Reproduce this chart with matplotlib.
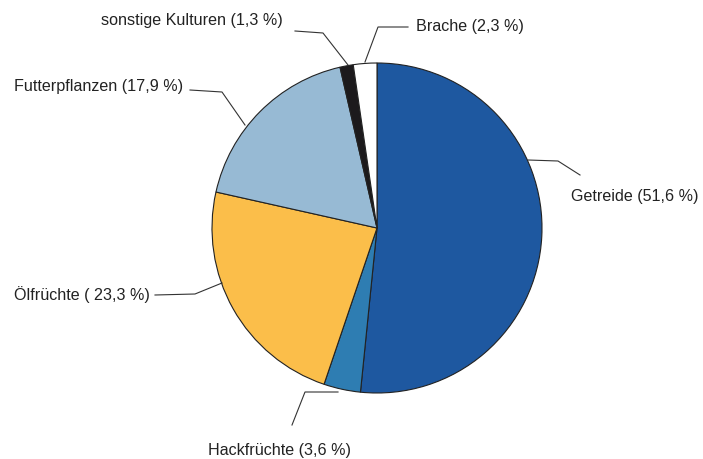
import matplotlib.pyplot as plt

plt.rcParams['font.family'] = ['Liberation Sans', 'DejaVu Sans']

labels = ["Getreide (51,6 %)", "Hackfrüchte (3,6 %)", "Ölfrüchte ( 23,3 %)",
          "Futterpflanzen (17,9 %)", "sonstige Kulturen (1,3 %)", "Brache (2,3 %)"]
shares = [51.6, 3.6, 23.3, 17.9, 1.3, 2.3]
colors = ["#1e58a0", "#2e7db2", "#fbbe4a", "#97bad4", "#1c1a1c", "#ffffff"]

W, H = 703, 459

# leader lines (pixel coords, y down) and label anchors
leaders = [
    [(528, 160), (558, 161), (580, 175)],
    [(338, 392), (305, 392), (292, 425)],
    [(222, 283), (195, 294), (155, 295)],
    [(245, 125), (222, 92), (190, 90)],
    [(348, 65), (323, 33), (295, 31)],
    [(365, 62), (378, 27), (408, 27)],
]
text_pos = [(571, 196, "left"), (208, 450, "left"), (150, 295, "right"),
            (183, 87, "right"), (283, 20, "right"), (416, 26, "left")]

fig = plt.figure(figsize=(W / 100, H / 100), dpi=100)
ax = fig.add_axes([0, 0, 1, 1])

ax.pie(shares, colors=colors, startangle=90, counterclock=False,
       center=(377, H - 228), radius=165,
       wedgeprops=dict(edgecolor='#222222', linewidth=0.8))
ax.set_xlim(0, W)
ax.set_ylim(0, H)
ax.set_aspect('equal')
ax.axis('off')

for pts, (tx, ty, ha), lab in zip(leaders, text_pos, labels):
    xs = [p[0] for p in pts]
    ys = [H - p[1] for p in pts]
    ax.plot(xs, ys, color='#333333', lw=0.8)
    ax.text(tx, H - ty, lab, ha=ha, va='center', fontsize=11.6, color='#222222')

fig.savefig("out.png", dpi=100)
